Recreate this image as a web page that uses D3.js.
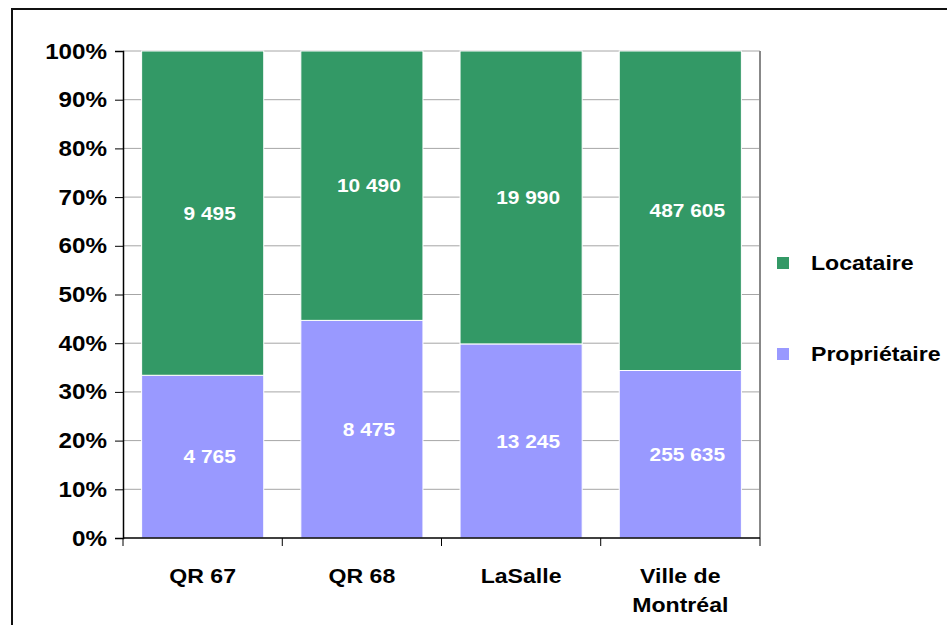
<!DOCTYPE html>
<html>
<head>
<meta charset="utf-8">
<script src="https://cdn.jsdelivr.net/npm/d3@7"></script>
<style>
  body { margin: 0; background: #fff; }
  svg { font-family: "Liberation Sans", Arial, sans-serif; font-weight: bold; }
</style>
</head>
<body>
<div id="chart"></div>
<script>
// Données
const categories = ["QR 67", "QR 68", "LaSalle", "Ville de Montréal"];
const proprietaire = [4765, 8475, 13245, 255635];
const locataire = [9495, 10490, 19990, 487605];
const yTicks = [0, 0.1, 0.2, 0.3, 0.4, 0.5, 0.6, 0.7, 0.8, 0.9, 1];

const width = 947, height = 625;
const margin = { left: 123, right: 187, top: 51, bottom: 87 };
const stretchX = 1.1; // le texte de l'original est un peu élargi

const svg = d3.select("#chart").append("svg")
    .attr("width", width)
    .attr("height", height);

// élargit horizontalement un texte autour de son point d'ancrage
function stretch(sel) {
    sel.attr("transform", function() {
        const ax = +d3.select(this).attr("x") || 0;
        return `translate(${ax},0) scale(${stretchX},1) translate(${-ax},0)`;
    });
}

// Cadre extérieur
svg.append("rect")
    .attr("x", 12).attr("y", 9)
    .attr("width", width).attr("height", height)
    .attr("fill", "none")
    .attr("stroke", "#111")
    .attr("stroke-width", 2);

const x = d3.scaleBand()
    .domain(categories)
    .range([margin.left, width - margin.right])
    .paddingInner(0.233)
    .paddingOuter(0.117);

const y = d3.scaleLinear()
    .domain([0, 1])
    .range([height - margin.bottom, margin.top]);

// Quadrillage
svg.append("g")
    .selectAll("line")
    .data(yTicks.filter(d => d > 0))
    .enter().append("line")
    .attr("x1", margin.left).attr("x2", width - margin.right)
    .attr("y1", d => y(d)).attr("y2", d => y(d))
    .attr("stroke", "#a6a6a6")
    .attr("stroke-width", 1);

// Bord droit de la zone de tracé
svg.append("line")
    .attr("x1", width - margin.right).attr("x2", width - margin.right)
    .attr("y1", y(1)).attr("y2", y(0))
    .attr("stroke", "#888")
    .attr("stroke-width", 2);

// Séries empilées
const rows = categories.map((c, i) => {
    const total = proprietaire[i] + locataire[i];
    return { cat: c, Propriétaire: proprietaire[i] / total, Locataire: locataire[i] / total,
             vals: { Propriétaire: proprietaire[i], Locataire: locataire[i] } };
});
const keys = ["Propriétaire", "Locataire"];
const colors = { "Propriétaire": "#9999ff", "Locataire": "#339966" };
const stack = d3.stack().keys(keys)(rows);

const fmt = v => d3.format(",")(v).replace(/,/g, " ");

const layer = svg.selectAll(".layer")
    .data(stack)
    .enter().append("g")
    .attr("fill", d => colors[d.key]);

layer.selectAll("rect")
    .data(d => d)
    .enter().append("rect")
    .attr("x", d => x(d.data.cat))
    .attr("width", x.bandwidth())
    .attr("y", d => y(d[1]))
    .attr("height", d => y(d[0]) - y(d[1]))
    .attr("stroke", "#fff")
    .attr("stroke-width", 1);

// étiquettes de valeurs (légèrement décalées à droite comme dans l'original)
stack.forEach(s => {
    svg.append("g").selectAll("text")
        .data(s)
        .enter().append("text")
        .attr("x", d => x(d.data.cat) + x.bandwidth() / 2 + 7)
        .attr("y", d => y((d[0] + d[1]) / 2))
        .attr("dy", "0.35em")
        .attr("text-anchor", "middle")
        .attr("fill", "#fff")
        .style("font-size", "19px")
        .text(d => fmt(d.data.vals[s.key]))
        .call(stretch);
});

// Axe Y
const yAxis = svg.append("g")
    .attr("transform", `translate(${margin.left},0)`)
    .call(d3.axisLeft(y).tickValues(yTicks).tickFormat(d3.format(".0%")).tickSize(8).tickPadding(8));
yAxis.select(".domain").attr("stroke", "#000").attr("stroke-width", 1.5);
yAxis.selectAll(".tick line").attr("stroke", "#000");
yAxis.selectAll("text")
    .style("font-size", "22px")
    .style("font-weight", "bold")
    .style("font-family", "Liberation Sans, Arial, sans-serif")
    .attr("fill", "#000")
    .call(stretch);

// Axe X
const xAxisG = svg.append("g")
    .attr("transform", `translate(0,${y(0)})`);
xAxisG.append("line")
    .attr("x1", margin.left).attr("x2", width - margin.right)
    .attr("stroke", "#000").attr("stroke-width", 1.5);
xAxisG.selectAll(".xt")
    .data(categories.map((c, i) => i === 0 ? margin.left : x(c) - x.step() * x.paddingInner() / 2).concat([width - margin.right]))
    .enter().append("line")
    .attr("x1", d => d).attr("x2", d => d)
    .attr("y1", 0).attr("y2", 8)
    .attr("stroke", "#000");

const xLabels = { "Ville de Montréal": ["Ville de", "Montréal"] };
categories.forEach(c => {
    const lines = xLabels[c] || [c];
    xAxisG.selectAll(null)
        .data(lines)
        .enter().append("text")
        .attr("text-anchor", "middle")
        .attr("x", x(c) + x.bandwidth() / 2)
        .attr("y", (l, i) => 45 + i * 29)
        .style("font-size", "21px")
        .attr("fill", "#000")
        .text(l => l)
        .call(stretch);
});

// Légende
const legend = svg.append("g");
const legendItems = [{ key: "Locataire", y: 263 }, { key: "Propriétaire", y: 354 }];
legendItems.forEach(it => {
    legend.append("rect")
        .attr("x", 777).attr("y", it.y - 6)
        .attr("width", 12).attr("height", 12)
        .attr("fill", colors[it.key]);
    legend.append("text")
        .attr("x", 811).attr("y", it.y)
        .attr("dy", "0.35em")
        .style("font-size", "21px")
        .attr("fill", "#000")
        .text(it.key)
        .call(stretch);
});
</script>
</body>
</html>
